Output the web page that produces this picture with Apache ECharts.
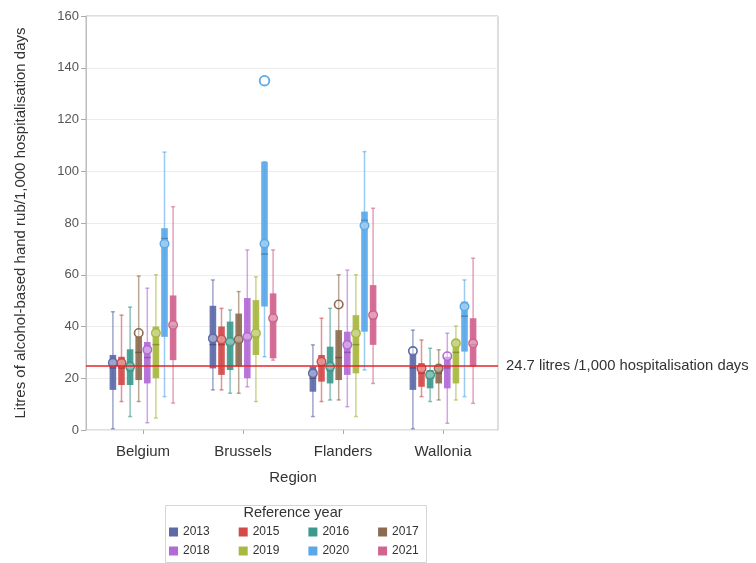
<!DOCTYPE html>
<html>
<head>
<meta charset="utf-8">
<script src="https://cdn.jsdelivr.net/npm/echarts@6/dist/echarts.min.js"></script>
<style>
  html, body { margin: 0; padding: 0; background: #fff; }
  #chart { width: 756px; height: 563px; }
</style>
</head>
<body>
<div id="chart"></div>
<script>
// Regions on the x axis and the reference years drawn in each region
const regions = ['Belgium', 'Brussels', 'Flanders', 'Wallonia'];
const years = ['2013', '2015', '2016', '2017', '2018', '2019', '2020', '2021'];
const yTicks = [0, 20, 40, 60, 80, 100, 120, 140, 160];

// Five-number summaries per year, one row per region: [min, Q1, median, Q3, max]
const stats2013 = [[0.5, 15.5, 24, 29, 45.7], [15.5, 23.8, 33, 48, 58], [5.2, 14.8, 20, 24.5, 32.9], [0.5, 15.5, 24, 29.6, 38.6]];
const stats2015 = [[11, 17.4, 24, 28.3, 44.4], [15.5, 21.3, 33, 40, 47], [11, 18.7, 25, 29, 43.2], [12.9, 16.7, 22, 25.8, 34.8]];
const stats2016 = [[5.2, 17.4, 23, 31.2, 47.5], [14.2, 23.2, 33, 41.9, 46.4], [11.6, 18, 23, 32.2, 47], [11, 16.1, 20, 23.2, 31.6]];
const stats2017 = [[11, 19.3, 30, 36, 59.5], [14.2, 24.5, 34, 45, 53.5], [11.6, 19.3, 28, 38.6, 60], [11.6, 18, 22, 25.1, 31]];
const stats2018 = [[2.8, 18, 28, 34, 54.8], [16.7, 20, 35, 51, 69.6], [9, 21.3, 30, 38, 61.8], [2.6, 16.1, 24, 28.3, 37.4]];
const stats2019 = [[4.6, 20, 33, 40, 60], [11, 29, 36, 50.2, 59.2], [5.2, 21.9, 33, 44.4, 60], [11.6, 18, 30, 34.8, 40.2]];
const stats2020 = [[12.9, 36, 74, 78, 107.4], [28.3, 47.7, 68, 103.7, 103.7], [23.2, 38, 81, 84.4, 107.6], [12.9, 30.3, 44, 49.6, 58]];
const stats2021 = [[10.4, 27, 40, 52, 86.3], [27, 27.7, 42, 52.8, 69.6], [18, 32.9, 43, 56, 85.7], [10.3, 24.5, 33, 43.2, 66.4]];

// Mean per region for each year
const mean2013 = [26, 35.4, 21.9, 30.5];
const mean2015 = [25.9, 35, 26.4, 23.8];
const mean2016 = [24.5, 34, 24.5, 21.3];
const mean2017 = [37.5, 35, 48.5, 23.8];
const mean2018 = [31, 36, 32.9, 28.5];
const mean2019 = [37.5, 37.4, 37.4, 33.5];
const mean2020 = [72, 72, 79, 47.7];
const mean2021 = [40.6, 43.2, 44.4, 33.5];

// Outlying values: [region, year, value]
const outliers = [['Brussels', '2020', 135]];

// Reference level
const refValue = 24.7;
const refLabel = '24.7 litres /1,000 hospitalisation days';

const statsByYear = [stats2013, stats2015, stats2016, stats2017, stats2018, stats2019, stats2020, stats2021];
const meansByYear = [mean2013, mean2015, mean2016, mean2017, mean2018, mean2019, mean2020, mean2021];

const palette = ['#5d6aa8', '#d24a4a', '#3c9a8c', '#8c6c50', '#b26ad6', '#a8b840', '#5aa8e8', '#d0648e'];
const FONT = "'Liberation Sans', Arial, sans-serif";

function darken(hex, f) {
  const n = parseInt(hex.slice(1), 16);
  const r = Math.round(((n >> 16) & 255) * f);
  const g = Math.round(((n >> 8) & 255) * f);
  const b = Math.round((n & 255) * f);
  return 'rgb(' + r + ',' + g + ',' + b + ')';
}

// Horizontal position of a year's box inside its region band
function boxX(api, regionIdx, yearIdx) {
  const band = api.size([1, 0])[0];
  return api.coord([regionIdx, 0])[0] + (yearIdx - 3.5) * band * 0.086;
}

function boxRenderer(yearIdx) {
  const color = palette[yearIdx];
  return function (params, api) {
    const band = api.size([1, 0])[0];
    const k = api.value(0);
    const cx = boxX(api, k, yearIdx);
    const bw = band * 0.066;
    const py = (d) => api.coord([k, api.value(d)])[1];
    const lo = py(1), q1 = py(2), md = py(3), q3 = py(4), hi = py(5), mn = py(6);
    const whisker = { stroke: color, lineWidth: 1.5, opacity: 0.6 };
    return {
      type: 'group',
      children: [
        { type: 'line', shape: { x1: cx, y1: hi, x2: cx, y2: lo }, style: whisker },
        { type: 'line', shape: { x1: cx - 2, y1: hi, x2: cx + 2, y2: hi }, style: whisker },
        { type: 'line', shape: { x1: cx - 2, y1: lo, x2: cx + 2, y2: lo }, style: whisker },
        { type: 'rect', shape: { x: cx - bw / 2, y: q3, width: bw, height: q1 - q3 },
          style: { fill: color, opacity: 0.92 } },
        { type: 'line', shape: { x1: cx - bw / 2, y1: md, x2: cx + bw / 2, y2: md },
          style: { stroke: darken(color, 0.8), lineWidth: 1.5 } },
        { type: 'circle', shape: { cx: cx, cy: mn, r: 4.2 },
          style: { fill: 'rgba(255,255,255,0.35)', stroke: color, lineWidth: 1.6 } }
      ]
    };
  };
}

const boxSeries = years.map((yr, i) => ({
  type: 'custom',
  name: yr,
  xAxisIndex: 0,
  yAxisIndex: 0,
  itemStyle: { color: palette[i] },
  renderItem: boxRenderer(i),
  encode: { x: 0, y: [1, 2, 3, 4, 5, 6] },
  data: regions.map((r, k) => [k].concat(statsByYear[i][k], [meansByYear[i][k]])),
  z: 3
}));

const outlierSeries = {
  type: 'custom',
  name: 'Outliers',
  xAxisIndex: 0,
  yAxisIndex: 0,
  renderItem: function (params, api) {
    const yi = api.value(1);
    const cx = boxX(api, api.value(0), yi);
    const cy = api.coord([api.value(0), api.value(2)])[1];
    return { type: 'circle', shape: { cx: cx, cy: cy, r: 4.8 },
      style: { fill: 'rgba(255,255,255,0.6)', stroke: palette[yi], lineWidth: 1.8 } };
  },
  encode: { x: 0, y: 2 },
  data: outliers.map(o => [regions.indexOf(o[0]), years.indexOf(o[1]), o[2]]),
  z: 4
};

const refSeries = {
  type: 'line',
  name: 'Reference',
  xAxisIndex: 1,
  yAxisIndex: 1,
  data: [[0, refValue], [1, refValue]],
  symbol: 'none',
  silent: true,
  lineStyle: { color: '#e3262b', width: 1.5 },
  endLabel: {
    show: true,
    formatter: refLabel,
    distance: 8,
    color: '#333',
    fontFamily: FONT,
    fontSize: 14.8
  },
  z: 10
};

const chart = echarts.init(document.getElementById('chart'), null, { renderer: 'canvas' });

const legendCommon = {
  left: 169, padding: 0,
  itemWidth: 9, itemHeight: 9, itemGap: 29, icon: 'rect',
  textStyle: { fontSize: 12, color: '#333' },
  selectedMode: false
};

chart.setOption({
  backgroundColor: '#fff',
  animation: false,
  textStyle: { fontFamily: FONT },
  grid: [
    // data area, one 100px band per region
    { left: 93, right: 263, top: 16, bottom: 133 },
    // framed plot area
    { left: 86, right: 258, top: 16, bottom: 133, show: true, borderColor: '#bdbdbd', borderWidth: 1, backgroundColor: 'transparent' }
  ],
  xAxis: [
    {
      type: 'category', gridIndex: 0, data: regions, boundaryGap: true,
      axisLine: { show: false },
      axisTick: { show: true, alignWithLabel: true, length: 4, lineStyle: { color: '#aaa' } },
      axisLabel: { fontSize: 15, color: '#333', margin: 14 },
      name: 'Region', nameLocation: 'middle', nameGap: 40,
      nameTextStyle: { fontSize: 15, color: '#333' }
    },
    { type: 'value', gridIndex: 1, min: 0, max: 1, show: false }
  ],
  yAxis: [
    { type: 'value', gridIndex: 0, min: 0, max: 160, interval: 20, show: false },
    {
      type: 'value', gridIndex: 1, min: yTicks[0], max: yTicks[yTicks.length - 1], interval: 20,
      axisLine: { show: true, lineStyle: { color: '#bdbdbd' } },
      axisTick: { show: true, length: 5, lineStyle: { color: '#aaa' } },
      axisLabel: { fontSize: 13, color: '#555', margin: 7 },
      splitLine: { show: true, lineStyle: { color: '#ececec' } },
      name: 'Litres of alcohol-based hand rub/1,000 hospitalisation days',
      nameLocation: 'middle', nameGap: 58,
      nameTextStyle: { fontSize: 15, color: '#333' }
    }
  ],
  legend: [
    Object.assign({ data: years.slice(0, 4), top: 526 }, legendCommon),
    Object.assign({ data: years.slice(4), top: 545 }, legendCommon)
  ],
  graphic: [
    { type: 'rect', left: 163, top: 503, shape: { width: 261, height: 57 },
      style: { fill: 'none', stroke: '#d6d6d6', lineWidth: 1 }, silent: true },
    { type: 'text', x: 293, y: 505,
      style: { text: 'Reference year', fontSize: 14.5, fill: '#333', fontFamily: FONT, align: 'center', verticalAlign: 'top' } }
  ],
  series: boxSeries.concat([outlierSeries, refSeries])
});
</script>
</body>
</html>
